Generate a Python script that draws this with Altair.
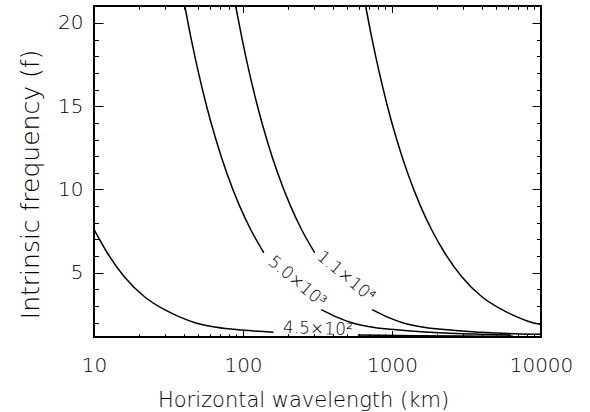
import altair as alt
import pandas as pd

# ---- curve data ----
# 4.5x10^2 contour (split around its label)
a1_x = [10, 12.26, 15.97, 21.82, 29.77, 37.49, 47.73, 62.9, 86.9, 159.9]
a1_y = [7.6, 6.2, 4.76, 3.56, 2.78, 2.35, 2.0, 1.76, 1.6, 1.43]
a2_x = [590, 1500, 3000, 6500]
a2_y = [1.257, 1.215, 1.195, 1.18]
# 5.0x10^3 contour
b1_x = [40.7, 45.0, 50.3, 57.0, 65.8, 77.7, 95.0, 112.8, 137.9]
b1_y = [21.02, 19, 17, 15, 13, 11, 9, 7.58, 6.2]
b2_x = [335, 421.7, 537, 708, 977, 1799, 3899, 6310]
b2_y = [2.78, 2.35, 2.0, 1.76, 1.6, 1.43, 1.31, 1.26]
# 1.1x10^4 contour
c1_x = [89.3, 98.8, 110.4, 125.1, 144.4, 170.6, 208.6, 247.6, 302.8]
c1_y = [21.02, 19, 17, 15, 13, 11, 9, 7.58, 6.2]
c2_x = [735.4, 925.5, 1179, 1554, 2145, 3949, 8561, 10000]
c2_y = [2.78, 2.35, 2.0, 1.76, 1.6, 1.43, 1.31, 1.30]
# unlabeled right-most contour
d_x = [665.2, 735.8, 822.7, 931.9, 1075.6, 1271, 1553.5, 1844.6, 2254.8,
       2937.5, 4013, 5477, 6895, 8781, 10000]
d_y = [21.02, 19, 17, 15, 13, 11, 9, 7.58, 6.2,
       4.76, 3.56, 2.78, 2.35, 2.0, 1.89]

# contour labels
label_text = ["4.5×10²", "5.0×10³", "1.1×10⁴"]
label_x = [318, 230, 491]
label_y = [1.62, 4.46, 4.76]
label_angle = [2, 40, 40]

# axis ticks
x_major = [10, 100, 1000, 10000]
x_minor = [m * d for d in (10, 100, 1000) for m in range(2, 10)]
y_major = [5, 10, 15, 20]
y_minor = [v for v in range(2, 22) if v % 5 != 0]

pieces = [("a1", a1_x, a1_y), ("a2", a2_x, a2_y), ("b1", b1_x, b1_y),
          ("b2", b2_x, b2_y), ("c1", c1_x, c1_y), ("c2", c2_x, c2_y),
          ("d", d_x, d_y)]
rows = []
for name, xs, ys in pieces:
    for i, (xv, yv) in enumerate(zip(xs, ys)):
        rows.append({"x": xv, "y": yv, "piece": name, "idx": i})
df = pd.DataFrame(rows)
labels_df = pd.DataFrame({"x": label_x, "y": label_y, "text": label_text,
                          "angle": label_angle})

FONT = "DejaVu Sans"
LIGHT = 200
xscale = alt.Scale(type="log", domain=[10, 10000], nice=False)
yscale = alt.Scale(domain=[1.14, 21.02], nice=False, zero=False)

base = alt.Chart(df)

curves = base.mark_line(color="black", strokeWidth=1.5, interpolate="monotone",
                        clip=True).encode(
    x=alt.X("x:Q", scale=xscale, axis=alt.Axis(
        values=x_major, format="d", ticks=False, tickSize=0, domain=False,
        grid=False, labelFont=FONT, labelFontSize=20, labelFontWeight=LIGHT,
        labelColor="black", labelPadding=18, labelFlush=False,
        labelOverlap=False,
        title="Horizontal wavelength (km)", titleFont=FONT, titleFontSize=21,
        titleFontWeight=LIGHT, titleColor="black", titleX=209, titleY=69,
        titleBaseline="alphabetic", titleAlign="center")),
    y=alt.Y("y:Q", scale=yscale, axis=alt.Axis(
        values=y_major, ticks=False, tickSize=0, domain=False, grid=False,
        labelFont=FONT, labelFontSize=20, labelFontWeight=LIGHT,
        labelColor="black", labelPadding=11, labelFlush=False,
        labelOverlap=False,
        title="Intrinsic frequency (f)", titleFont=FONT, titleFontSize=25,
        titleFontWeight=LIGHT, titleColor="black", titleX=-64, titleY=178,
        titleAngle=270, titleBaseline="middle", titleAlign="center")),
    detail="piece:N",
    order="idx:Q",
)


def tick_layer(xvals, xorient, xlen, yvals, yorient, ylen):
    return base.mark_line(strokeOpacity=0).encode(
        x=alt.X("x:Q", scale=xscale, axis=alt.Axis(
            values=xvals, orient=xorient, labels=False, domain=False,
            grid=False, ticks=True, tickSize=xlen, offset=-xlen,
            tickColor="black", tickWidth=1, title=None)),
        y=alt.Y("y:Q", scale=yscale, axis=alt.Axis(
            values=yvals, orient=yorient, labels=False, domain=False,
            grid=False, ticks=True, tickSize=ylen, offset=-ylen,
            tickColor="black", tickWidth=1, title=None)),
        detail="piece:N",
    )


t1 = tick_layer(x_major, "bottom", 6.5, y_major, "left", 9)
t2 = tick_layer(x_minor, "bottom", 3.3, y_minor, "left", 4.5)
t3 = tick_layer(x_major, "top", 6.5, y_major, "right", 9)
t4 = tick_layer(x_minor, "top", 3.3, y_minor, "right", 4.5)

texts = alt.Chart(labels_df).mark_text(
    font=FONT, fontSize=17, fontWeight=LIGHT, color="black", align="center",
    baseline="middle"
).encode(
    x=alt.X("x:Q", scale=xscale, axis=None),
    y=alt.Y("y:Q", scale=yscale, axis=None),
    text="text:N",
    angle=alt.Angle("angle:Q", scale=None),
)

chart = alt.layer(curves, t1, t2, t3, t4, texts).resolve_axis(
    x="independent", y="independent"
).properties(
    width=447, height=331,
    autosize=alt.AutoSizeParams(type="none"),
    padding={"left": 94, "top": 6, "right": 49, "bottom": 75},
    background="white",
).configure_view(stroke="black", strokeWidth=2)

chart.save("out.html", embed_options={"renderer": "svg", "actions": False})
